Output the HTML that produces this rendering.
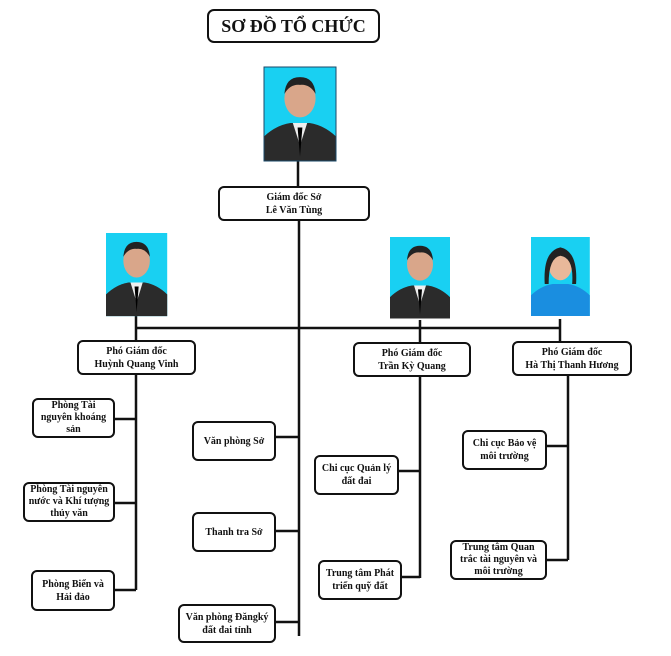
<!DOCTYPE html>
<html><head><meta charset="utf-8"><style>
body{margin:0;background:#fff;width:671px;height:656px;overflow:hidden;position:relative;font-family:"Liberation Serif",serif;}
.b{position:absolute;box-sizing:border-box;border:2px solid #111;border-radius:6px;background:#fff;display:flex;align-items:center;justify-content:center;text-align:center;font-weight:bold;font-size:10px;line-height:13px;color:#111}
.t{line-height:12px}
svg{position:absolute;left:0;top:0}
</style></head><body>
<svg width="671" height="656">
<defs>
<g id="p"><rect x="0" y="0" width="60" height="84" fill="#19d0f2"/>
<path d="M0 84 L0 62 Q10 52 22 50 L38 50 Q50 52 60 62 L60 84Z" fill="#2b2b2b"/>
<path d="M24 50 L30 70 L36 50Z" fill="#eee"/><path d="M28 54 L30 80 L32 54Z" fill="#000"/>
<ellipse cx="30" cy="28" rx="13" ry="17" fill="#d9a68a"/><path d="M17 24 Q18 9 30 9 Q42 9 43 24 Q38 15 30 16 Q22 15 17 24Z" fill="#222"/></g>
</defs>
<g stroke="#111" stroke-width="2.5" fill="none">
<path d="M298 161V186M299 221V636M136 328H560M136 316V340M420 320V342M560 319V342"/>
<path d="M136 375V590M115 419H136M115 503H136M115 590H136"/>
<path d="M276 437H299M276 531H299M276 622H299"/>
<path d="M420 377V578M399 471H420M402 577H420"/>
<path d="M568 376V560M547 446H568M547 560H568"/>
</g>
<g transform="translate(264,67) scale(1.2,1.12)"><use href="#p"/></g>
<rect x="264" y="67" width="72" height="94" fill="none" stroke="#1a4a6a" stroke-width="1"/>
<g transform="translate(106,233) scale(1.02,0.99)"><use href="#p"/></g>
<g transform="translate(390,237) scale(1,0.97)"><use href="#p"/></g>
<g transform="translate(531,237) scale(0.98,0.94)"><rect width="60" height="84" fill="#19d0f2"/><path d="M0 84 L0 62 Q10 52 22 50 L38 50 Q50 52 60 62 L60 84Z" fill="#1a8ee0"/><ellipse cx="30" cy="30" rx="12" ry="16" fill="#e8b89a"/><path d="M14 50 Q12 15 30 11 Q48 15 46 50 L42 50 Q44 22 30 20 Q18 22 18 50Z" fill="#222"/></g>
</svg>
<div class="b" style="left:207px;top:9px;width:173px;height:34px;font-size:18px;border-radius:7px">SƠ ĐỒ TỔ CHỨC</div>
<div class="b" style="left:218px;top:186px;width:152px;height:35px">Giám đốc Sở<br>Lê Văn Tùng</div>
<div class="b" style="left:77px;top:340px;width:119px;height:35px">Phó Giám đốc<br>Huỳnh Quang Vinh</div>
<div class="b" style="left:353px;top:342px;width:118px;height:35px">Phó Giám đốc<br>Trần Kỳ Quang</div>
<div class="b" style="left:512px;top:341px;width:120px;height:35px">Phó Giám đốc<br>Hà Thị Thanh Hương</div>
<div class="b t" style="left:32px;top:398px;width:83px;height:40px">Phòng Tài<br>nguyên khoáng<br>sản</div>
<div class="b t" style="left:23px;top:482px;width:92px;height:40px">Phòng Tài nguyên<br>nước và Khí tượng<br>thủy văn</div>
<div class="b" style="left:31px;top:570px;width:84px;height:41px">Phòng Biển và<br>Hải đảo</div>
<div class="b" style="left:192px;top:421px;width:84px;height:40px">Văn phòng Sở</div>
<div class="b" style="left:192px;top:512px;width:84px;height:40px">Thanh tra Sở</div>
<div class="b" style="left:178px;top:604px;width:98px;height:39px">Văn phòng Đăngký<br>đất đai tỉnh</div>
<div class="b" style="left:314px;top:455px;width:85px;height:40px">Chi cục Quản lý<br>đất đai</div>
<div class="b" style="left:318px;top:560px;width:84px;height:40px">Trung tâm Phát<br>triển quỹ đất</div>
<div class="b" style="left:462px;top:430px;width:85px;height:40px">Chi cục Bảo vệ<br>môi trường</div>
<div class="b t" style="left:450px;top:540px;width:97px;height:40px">Trung tâm Quan<br>trắc tài nguyên và<br>môi trường</div>
</body></html>
